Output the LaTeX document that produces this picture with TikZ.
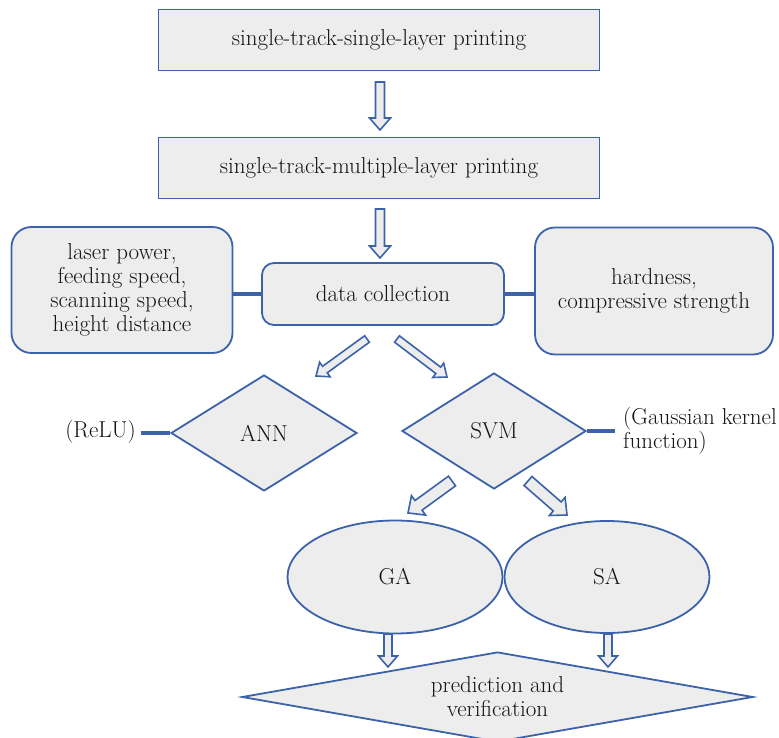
\documentclass[tikz,border=0pt]{standalone}
\usepackage{fontspec}
\setmainfont{Latin Modern Roman}
\usetikzlibrary{shapes.geometric,calc}
\definecolor{bl}{RGB}{60,98,170}
\definecolor{gf}{RGB}{237,237,237}
\definecolor{tx}{RGB}{20,20,20}
\newcommand\blockarr[5]{%
  \draw[barrow] let \p1=(#4), \p2=(#5), \n1={atan2(\y2-\y1,\x2-\x1)}, \n2={veclen(\x2-\x1,\y2-\y1)} in
    [shift={(\p1)}, rotate=\n1]
    (0pt,-#1pt) -- ({\n2-#3pt},-#1pt) -- ({\n2-#3pt},-#2pt) -- ({\n2+0pt},0pt)
    -- ({\n2-#3pt},#2pt) -- ({\n2-#3pt},#1pt) -- (0pt,#1pt) -- cycle;}
\tikzset{
  txt/.style={font=\fontsize{23}{24}\selectfont, align=center, text=tx},
  base/.style={txt, draw=bl, fill=gf, line width=1.8pt, inner sep=0pt},
  sqbox/.style={base, rectangle},
  rbox/.style={base, rectangle, rounded corners=#1},
  dia/.style={base, diamond},
  ell/.style={base, ellipse},
  barrow/.style={draw=bl, fill=gf, line width=1.6pt, line join=miter},
  link/.style={draw=bl, line width=3.6pt}
}
\begin{document}
\begin{tikzpicture}[x=1pt,y=-1pt]
\useasboundingbox (0,0) rectangle (779,738);
\clip (0,0) rectangle (779,738);
% boxes
\node[sqbox, minimum width=441, minimum height=61] (b1) at (379,40) {single-track-single-layer printing};
\node[sqbox, minimum width=441, minimum height=61] (b2) at (379,168) {single-track-multiple-layer printing};
\node[rbox=12pt, minimum width=242, minimum height=62] (dc) at (383,294) {data collection};
\node[rbox=20pt, minimum width=221, minimum height=126] (lp) at (122,290) {laser power,\\feeding speed,\\scanning speed,\\height distance};
\node[rbox=20pt, minimum width=238, minimum height=127] (rp) at (654,291) {hardness,\\compressive strength};
% diamonds
\node[dia, minimum width=186, minimum height=116] (ann) at (264,433) {ANN};
\node[dia, minimum width=184, minimum height=116] (svm) at (494,431) {SVM};
\node[txt, anchor=east, inner sep=0pt] (relu) at (136,432) {(ReLU)};
\node[txt, anchor=west, align=left, inner sep=0pt, inner xsep=8pt] (gk) at (615,431) {(Gaussian kernel\\function)};
% ellipses
\node[ell, minimum width=215, minimum height=113] (ga) at (395,577) {GA};
\node[ell, minimum width=205, minimum height=112] (sa) at (607,577) {SA};
% bottom diamond
\node[dia, shape aspect=5.68, minimum width=511, minimum height=90] (pv) at (497.5,697) {prediction and\\verification};
% links
\draw[link] (dc.west) -- (dc.west -| lp.east);
\draw[link] (dc.east) -- (dc.east -| rp.west);
\draw[link] (ann.west) -- ([xshift=5pt]ann.west -| relu.east);
\draw[link] (svm.east) -- (svm.east -| gk.west);
% block arrow ends
\coordinate (a1s) at (380,82);  \coordinate (a1e) at (380,130);
\coordinate (a2s) at (380,209); \coordinate (a2e) at (380,258);
\coordinate (a3s) at (367,339); \coordinate (a3e) at (316,376);
\coordinate (a4s) at (397,339); \coordinate (a4e) at (447,377);
\coordinate (a5s) at (452,481); \coordinate (a5e) at (408,513);
\coordinate (a6s) at (528,481); \coordinate (a6e) at (567,515);
\coordinate (a7s) at (388,634); \coordinate (a7e) at (388,667);
\coordinate (a8s) at (608,634); \coordinate (a8e) at (608,667);
\blockarr{4.5}{10.5}{12}{a1s}{a1e}
\blockarr{4.5}{10.5}{12}{a2s}{a2e}
\blockarr{4}{9}{11}{a3s}{a3e}
\blockarr{4}{9}{11}{a4s}{a4e}
\blockarr{6}{12}{13}{a5s}{a5e}
\blockarr{6}{12}{13}{a6s}{a6e}
\blockarr{4}{9.5}{11}{a7s}{a7e}
\blockarr{4}{9.5}{11}{a8s}{a8e}
\end{tikzpicture}
\end{document}
